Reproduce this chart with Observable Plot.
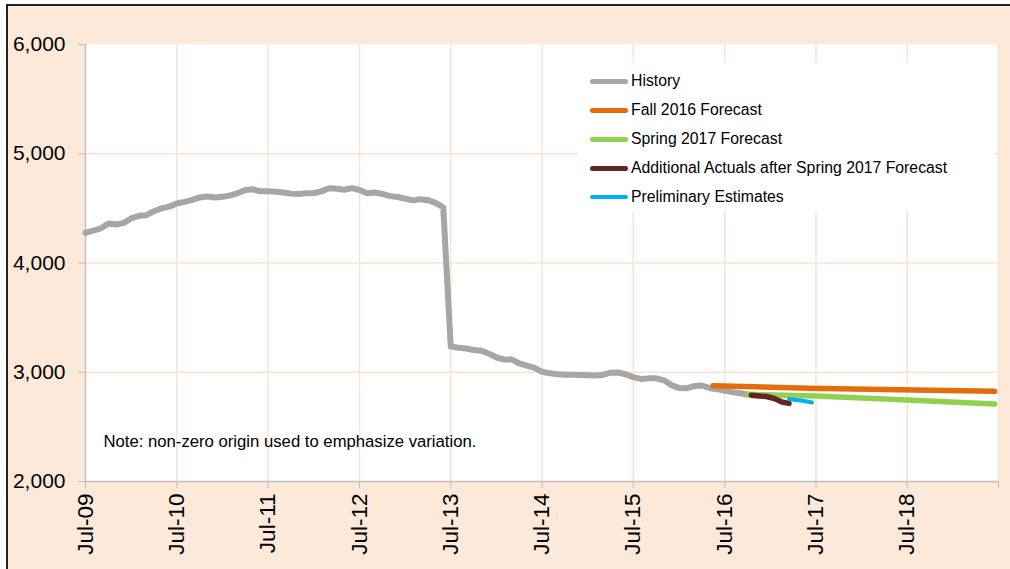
<!DOCTYPE html>
<html><head><meta charset="utf-8">
<script src="https://cdn.jsdelivr.net/npm/d3@7"></script>
<script src="https://cdn.jsdelivr.net/npm/@observablehq/plot@0.6"></script>
<style>
body{margin:0;background:#fff;font-family:"Liberation Sans",Arial,sans-serif;}
#wrap{position:relative;width:1010px;height:569px;overflow:hidden;}
#bg{position:absolute;left:6px;top:4px;right:0;bottom:0;background:#FDE9D9;border-top:2px solid #222;border-left:2px solid #222;}
#chart{position:absolute;left:0;top:0;}
#legend{position:absolute;left:578px;top:63px;width:416px;height:148px;background:#fff;}
.row{position:absolute;left:0;width:416px;height:20px;}
.sw{position:absolute;left:12px;top:7.5px;width:38px;height:5px;border-radius:3px;}
.lb{position:absolute;left:53px;top:0;font-size:15.8px;line-height:20px;white-space:nowrap;color:#000;}
</style>
</head>
<body>
<div id="wrap"><div id="bg"></div><div id="chart"></div><div id="legend"></div></div>
<script>
// ---- data ----
const historyStart = "2009-07-01"; // monthly values from Jul-09
const historyValues = [
  4277,4297,4318,4362,4352,4367,4410,4432,4438,4474,4500,4516,
  4545,4560,4578,4600,4608,4600,4607,4619,4639,4667,4675,4656,
  4657,4652,4645,4635,4631,4638,4641,4657,4684,4680,4671,4685,
  4668,4638,4645,4632,4612,4604,4588,4573,4583,4575,4550,4510,
  3235,3225,3217,3204,3197,3170,3135,3115,3118,3082,3061,3040,
  3005,2990,2982,2978,2976,2975,2973,2970,2975,2996,2998,2982,
  2955,2939,2944,2944,2926,2882,2855,2854,2874,2878,2856,2845,
  2830,2818,2808,2797
];
const fallDates = ["2016-05-15","2017-06-01","2018-06-01","2019-06-15"];
const fallValues = [2877,2854,2840,2825];
const springDates = ["2016-10-01","2017-07-01","2018-07-01","2019-06-15"];
const springValues = [2798,2782,2745,2709];
const actualDates = ["2016-10-15","2016-11-15","2016-12-15","2017-01-15","2017-02-15","2017-03-15"];
const actualValues = [2790,2783,2778,2760,2728,2715];
const prelimDates = ["2017-03-15","2017-04-15","2017-05-15","2017-06-15"];
const prelimValues = [2755,2746,2736,2724];
const tickYears = [2009,2010,2011,2012,2013,2014,2015,2016,2017,2018,2019];
const yTicks = [2000,3000,4000,5000,6000];
const seriesNames = ["History","Fall 2016 Forecast","Spring 2017 Forecast","Additional Actuals after Spring 2017 Forecast","Preliminary Estimates"];
const seriesColors = ["#A6A6A6","#E46C0A","#92D050","#632523","#00B0F0"];
const noteText = "Note: non-zero origin used to emphasize variation.";

// ---- build ----
const start = new Date(historyStart);
const history = historyValues.map((v,i)=>({date: d3.utcMonth.offset(start, i), value: v}));
const pair = (ds, vs) => ds.map((d,i)=>({date: new Date(d), value: vs[i]}));
const fall = pair(fallDates, fallValues);
const spring = pair(springDates, springValues);
const actual = pair(actualDates, actualValues);
const prelim = pair(prelimDates, prelimValues);
const xTicks = tickYears.map(y => new Date(Date.UTC(y,6,1)));
const grid = "#FBE3D3", axisCol = "#BFBFBF";
const lineOpts = (c, w) => ({x:"date", y:"value", stroke:c, strokeWidth:w, strokeLinecap:"round", strokeLinejoin:"round"});

const plot = Plot.plot({
  width: 1010, height: 569,
  marginLeft: 85, marginRight: 12, marginTop: 44, marginBottom: 88,
  style: {background: "transparent", fontFamily: '"Liberation Sans", Arial, sans-serif', color: "#000"},
  x: {type: "utc", domain: [xTicks[0], xTicks[xTicks.length-1]], label: null},
  y: {domain: [2000, 6000], label: null},
  marks: [
    Plot.frame({fill: "white", stroke: null}),
    Plot.ruleX(xTicks, {stroke: grid, strokeWidth: 1.5}),
    Plot.ruleY(yTicks.slice(1,-1), {stroke: grid, strokeWidth: 1.5}),
    Plot.ruleX([xTicks[0]], {stroke: axisCol, strokeWidth: 1.3}),
    Plot.ruleY([2000], {stroke: axisCol, strokeWidth: 1.3}),
    Plot.axisY({ticks: yTicks, tickFormat: d3.format(","), tickSize: 7, tickPadding: 13, fontSize: 21, stroke: axisCol, fill: "#000", label: null}),
    Plot.axisX({ticks: xTicks, tickFormat: d => d.getUTCFullYear() === 2019 ? "" : "Jul-" + String(d.getUTCFullYear() % 100).padStart(2, "0"),
      tickSize: 7, tickPadding: 5, tickRotate: -90, fontSize: 22.5, stroke: axisCol, fill: "#000", label: null}),
    Plot.line(history, lineOpts(seriesColors[0], 6)),
    Plot.line(spring, lineOpts(seriesColors[2], 5.5)),
    Plot.line(fall, lineOpts(seriesColors[1], 5.5)),
    Plot.line(actual, lineOpts(seriesColors[3], 5.5)),
    Plot.line(prelim, lineOpts(seriesColors[4], 4)),
    Plot.text([noteText], {text: d => d, frameAnchor: "bottom-left", textAnchor: "start", lineAnchor: "middle", dx: 18, dy: -40, fontSize: 16.7, fill: "#000"})
  ]
});
document.getElementById("chart").appendChild(plot);

const legend = document.getElementById("legend");
const rowCenters = [18, 47, 76, 105, 134];
seriesNames.forEach((n, i) => {
  const row = document.createElement("div");
  row.className = "row";
  row.style.top = (rowCenters[i] - 10) + "px";
  const sw = document.createElement("div");
  sw.className = "sw";
  sw.style.background = seriesColors[i];
  if (i === 4) { sw.style.height = "4px"; sw.style.top = "8px"; }
  const lb = document.createElement("span");
  lb.className = "lb";
  lb.textContent = n;
  row.appendChild(sw); row.appendChild(lb);
  legend.appendChild(row);
});
</script>
</body></html>
